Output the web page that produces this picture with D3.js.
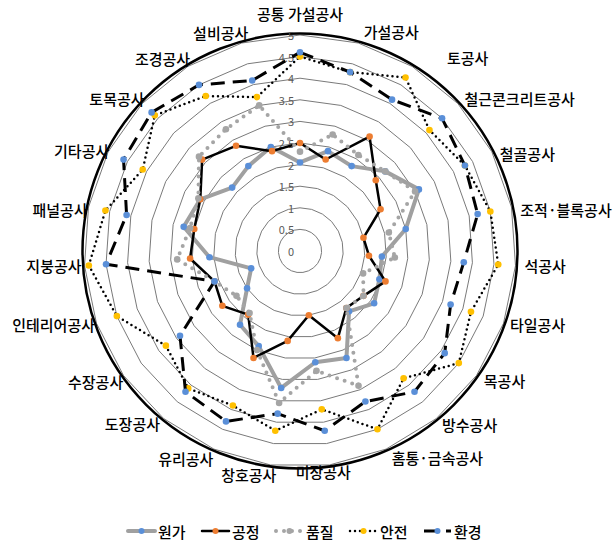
<!DOCTYPE html>
<html>
<head>
<meta charset="utf-8">
<script src="https://cdn.jsdelivr.net/npm/d3@7/dist/d3.min.js"></script>
<style>
  html, body { margin: 0; padding: 0; background: #fff; }
  svg { display: block; }
  text { font-family: "Noto Sans CJK KR", "Noto Sans", sans-serif; }
</style>
</head>
<body>
<svg id="chart" width="613" height="541"></svg>
<script>
// Work categories, clockwise from the top
const categories = [
  "공통 가설공사", "가설공사", "토공사", "철근콘크리트공사", "철골공사", "조적·블록공사",
  "석공사", "타일공사", "목공사", "방수공사", "홈통·금속공사", "미장공사",
  "창호공사", "유리공사", "도장공사", "수장공사", "인테리어공사", "지붕공사",
  "패널공사", "기타공사", "토목공사", "조경공사", "설비공사"
];

// Scores per category for each management item
const cost = [2.05, 2.4, 2.3, 2.7, 3.1, 2.5, 1.9, 1.95, 2.1, 1.8, 2.7, 2.6, 3.2, 2.4, 2.2, 1.5, 1.2, 2.1, 2.75, 2.6, 2.15, 2.3, 2.5];
const schedule = [2.5, 2.2, 3.1, 2.4, 2.1, 1.5, 1.6, 2.1, 1.8, 1.7, 2.2, 1.5, 2.1, 2.7, 1.9, 2.2, 2.1, 2.55, 2.5, 2.6, 3.1, 2.85, 2.4];
const quality = [2.3, 2.8, 2.6, 2.7, 3.0, 2.1, 2.2, 1.55, 1.8, 1.7, 3.4, 2.8, 3.55, 2.5, 1.85, 1.8, 2.1, 2.85, 2.6, 2.65, 3.2, 3.3, 3.5];
const safety = [4.5, 4.3, 4.7, 4.1, 4.3, 4.5, 4.6, 4.2, 4.5, 3.8, 4.5, 3.7, 4.2, 3.9, 4.1, 3.8, 4.5, 4.9, 4.6, 4.1, 4.6, 4.2, 3.7];
const environment = [4.6, 4.3, 4.1, 4.5, 4.3, 4.2, 3.8, 3.7, 4.1, 4.2, 3.8, 4.2, 3.8, 4.3, 4.2, 3.4, 2.1, 4.5, 4.1, 4.6, 4.7, 4.5, 4.1];

const seriesNames = ["원가", "공정", "품질", "안전", "환경"];
const tickValues = [0, 0.5, 1, 1.5, 2, 2.5, 3, 3.5, 4, 4.5, 5];

const series = [
  { name: seriesNames[0], values: cost,        line: "#a0a0a0", width: 4,   dash: null,   cap: "round", marker: "#5a8fd8" },
  { name: seriesNames[1], values: schedule,    line: "#000000", width: 2.5, dash: null,   cap: "round", marker: "#ed7d31" },
  { name: seriesNames[2], values: quality,     line: "#a5a5a5", width: 4,   dash: "0 8",  cap: "round", marker: "#a5a5a5" },
  { name: seriesNames[3], values: safety,      line: "#000000", width: 2.5, dash: "0 5",  cap: "round", marker: "#ffc000" },
  { name: seriesNames[4], values: environment, line: "#000000", width: 3,   dash: "14 8", cap: "butt",  marker: "#5a8fd8" }
];

const svg = d3.select("#chart");
const cx = 300, cy = 251, R = 216;

const r = d3.scaleLinear().domain([0, 5]).range([0, R]);
const angle = d3.scaleLinear().domain([0, categories.length]).range([0, 2 * Math.PI]);

const g = svg.append("g").attr("transform", `translate(${cx},${cy})`);

// polygonal gridlines at every 0.5
const gridLine = d3.lineRadial().curve(d3.curveLinearClosed)
  .angle((d, i) => angle(i)).radius(d => r(d));
g.append("g").selectAll("path")
  .data(tickValues.filter(v => v > 0))
  .join("path")
  .attr("d", v => gridLine(categories.map(() => v)))
  .attr("fill", "none")
  .attr("stroke", "#7a7a7a")
  .attr("stroke-width", 1);

// outer frame
g.append("circle").attr("r", R + 1.5).attr("fill", "none")
  .attr("stroke", "#000").attr("stroke-width", 2.5);

// value labels along the vertical axis
g.append("g").selectAll("text")
  .data(tickValues)
  .join("text")
  .attr("x", -6)
  .attr("y", v => -r(v))
  .attr("text-anchor", "end")
  .attr("dominant-baseline", "central")
  .attr("font-size", 11)
  .attr("fill", "#595959")
  .text(v => v);

// series
const seriesLine = d3.lineRadial().curve(d3.curveLinearClosed)
  .angle((d, i) => angle(i)).radius(d => r(d));

series.forEach(s => {
  const sg = g.append("g");
  sg.append("path")
    .attr("d", seriesLine(s.values))
    .attr("fill", "none")
    .attr("stroke", s.line)
    .attr("stroke-width", s.width)
    .attr("stroke-linecap", s.cap)
    .attr("stroke-linejoin", "round")
    .attr("stroke-dasharray", s.dash);
  sg.selectAll("circle")
    .data(s.values)
    .join("circle")
    .attr("cx", (d, i) => r(d) * Math.sin(angle(i)))
    .attr("cy", (d, i) => -r(d) * Math.cos(angle(i)))
    .attr("r", 3.3)
    .attr("fill", s.marker);
});

// category labels: aligned toward the frame, then nudged individually
const labelRx = R + 9, labelRy = R + 3;
const labelNudge = [
  [0, -10], [3, 0], [30, 2], [0, 5], [0, 3], [0, 3], [0, 0], [-2, 0], [0, -1], [0, 0],
  [2, 2], [-35, 0], [7, 3], [3, 3], [2, -1], [7, 0], [7, 0], [6, 0], [8, 3],
  [9, 0], [9, 5], [7, 3], [9, 1]
];
g.append("g").selectAll("text")
  .data(categories)
  .join("text")
  .each(function (d, i) {
    const a = angle(i), s = Math.sin(a), c = Math.cos(a);
    const n = labelNudge[i];
    let y = -labelRy * c;
    if (c > 0.5) y -= 8.5;
    else if (c < -0.5) y += 4;
    d3.select(this)
      .attr("x", labelRx * s + n[0])
      .attr("y", y + n[1])
      .attr("text-anchor", Math.abs(s) < 0.05 ? "middle" : (s > 0 ? "start" : "end"));
  })
  .attr("dominant-baseline", "central")
  .attr("font-size", 15)
  .attr("font-weight", 500)
  .attr("fill", "#000")
  .text(d => d);

// legend
const legend = svg.append("g").attr("transform", "translate(128,531)");
series.forEach((s, i) => {
  const lg = legend.append("g").attr("transform", `translate(${i * 74},0)`);
  lg.append("line")
    .attr("x1", 0).attr("x2", 27).attr("y1", 0).attr("y2", 0)
    .attr("stroke", s.line)
    .attr("stroke-width", s.width)
    .attr("stroke-linecap", s.cap)
    .attr("stroke-dasharray", s.dash);
  lg.append("circle").attr("cx", 13.5).attr("cy", 0).attr("r", 3).attr("fill", s.marker);
  lg.append("text")
    .attr("x", 30).attr("y", 0)
    .attr("dominant-baseline", "central")
    .attr("font-size", 15)
    .attr("font-weight", 500)
    .text(s.name);
});
</script>
</body>
</html>
